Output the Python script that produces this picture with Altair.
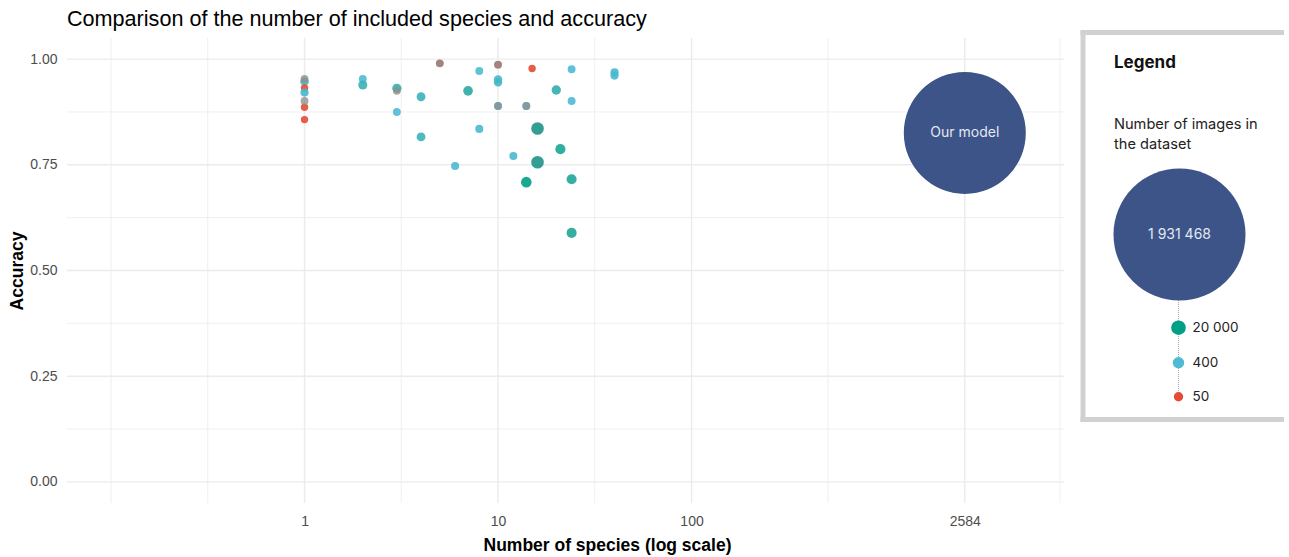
import altair as alt
import pandas as pd

TITLE = "Comparison of the number of included species and accuracy"
X_TITLE = "Number of species (log scale)"
Y_TITLE = "Accuracy"

# Studies with a known number of images
species = [1, 1, 1, 1, 1, 2, 2, 3, 3, 4, 4, 5, 6, 7, 8, 8, 10, 10, 10, 10,
           12, 14, 14, 15, 16, 16, 20, 21, 24, 24, 24, 24, 40, 40]
accuracy = [0.947, 0.932, 0.921, 0.886, 0.857, 0.953, 0.939, 0.931, 0.875, 0.911,
            0.816, 0.990, 0.747, 0.925, 0.972, 0.835, 0.987, 0.952, 0.945, 0.889,
            0.771, 0.889, 0.709, 0.978, 0.836, 0.756, 0.927, 0.787, 0.976, 0.901,
            0.716, 0.589, 0.969, 0.961]
images = [1000, 50, 600, 50, 50, 400, 2000, 2500, 400, 1500,
          1500, 50, 500, 5000, 400, 500, 50, 700, 800, 400,
          500, 400, 20000, 50, 40000, 40000, 3000, 10000, 400, 450,
          8000, 8000, 600, 600]

# Studies without a reported number of images
na_species = [1, 1, 3, 5, 10, 10, 14]
na_accuracy = [0.953, 0.901, 0.925, 0.990, 0.987, 0.889, 0.889]

# Our model
model_species = [2584]
model_accuracy = [0.8255]
model_images = [1931468]
model_label = ["Our model"]

# Axis breaks and grid
x_ticks = [1, 10, 100, 2584]
x_minor = [0.1, 0.316, 3.16, 31.6, 508, 8020]
y_ticks = [0.0, 0.25, 0.5, 0.75, 1.0]
y_minor = [0.125, 0.375, 0.625, 0.875]

# Legend content
legend_title = "Legend"
legend_subtitle = ["Number of images in", "the dataset"]
legend_values = [1931468, 20000, 400, 50]
legend_labels = ["1 931 468", "20 000", "400", "50"]

npg_colors = ["#E64B35", "#4DBBD5", "#00A087", "#3C5488"]

W, H = 997, 465

xs = alt.Scale(type="log", domain=[0.0592, 8414], nice=False)
ys = alt.Scale(domain=[-0.05, 1.05], nice=False, zero=False)
cs = alt.Scale(type="log", domain=[50, 400, 20000, 1931468], range=npg_colors,
               interpolate="lab")
ss = alt.Scale(type="log", domain=[50, 400, 20000, 40000, 1931468],
               range=[55, 62, 112, 160, 14884])

GRID = "#ebebeb"

ax_x = alt.Axis(values=x_ticks, format="d", grid=False, ticks=False, domain=False,
                labelColor="#4d4d4d", labelFontSize=14, labelFont="Liberation Sans",
                labelPadding=11, title=X_TITLE, titleFont="Liberation Sans",
                titleFontSize=17.5, titleFontWeight="bold", titleColor="black",
                titlePadding=8, titleX=540, titleAlign="center")
ax_y = alt.Axis(values=y_ticks, format=".2f", grid=False, ticks=False, domain=False,
                labelColor="#4d4d4d", labelFontSize=14, labelFont="Liberation Sans",
                labelPadding=10, title=Y_TITLE, titleFont="Liberation Sans",
                titleFontSize=17.5, titleFontWeight="bold", titleColor="black",
                titlePadding=3)


def X(field):
    return alt.X(field, scale=xs, axis=ax_x)


def Y(field):
    return alt.Y(field, scale=ys, axis=ax_y)


vmaj = alt.Chart(pd.DataFrame({"species": x_ticks})).mark_rule(
    color=GRID, strokeWidth=1.4).encode(x=X("species:Q"))
vmin = alt.Chart(pd.DataFrame({"species": x_minor})).mark_rule(
    color=GRID, strokeWidth=0.8).encode(x=X("species:Q"))
hmaj = alt.Chart(pd.DataFrame({"accuracy": y_ticks})).mark_rule(
    color=GRID, strokeWidth=1.4).encode(y=Y("accuracy:Q"))
hmin = alt.Chart(pd.DataFrame({"accuracy": y_minor})).mark_rule(
    color=GRID, strokeWidth=0.8).encode(y=Y("accuracy:Q"))

df = pd.DataFrame({"species": species, "accuracy": accuracy, "images": images})
pts = alt.Chart(df).mark_circle(opacity=0.9, strokeWidth=0).encode(
    x=X("species:Q"), y=Y("accuracy:Q"),
    color=alt.Color("images:Q", scale=cs, legend=None),
    size=alt.Size("images:Q", scale=ss, legend=None),
)

na_df = pd.DataFrame({"species": na_species, "accuracy": na_accuracy})
na_pts = alt.Chart(na_df).mark_circle(color="#8e8e8e", opacity=0.78, size=62).encode(
    x=X("species:Q"), y=Y("accuracy:Q"),
)

mdf = pd.DataFrame({"species": model_species, "accuracy": model_accuracy,
                    "images": model_images, "label": model_label})
model = alt.Chart(mdf).mark_circle(opacity=1).encode(
    x=X("species:Q"), y=Y("accuracy:Q"),
    color=alt.Color("images:Q", scale=cs, legend=None),
    size=alt.Size("images:Q", scale=ss, legend=None),
)
model_text = alt.Chart(mdf).mark_text(color="#e3e8f2", fontSize=14, font="Inter").encode(
    x=X("species:Q"), y=Y("accuracy:Q"), text="label:N",
)

# ---- chart title as a text mark, above the panel ----
title_mark = alt.Chart(pd.DataFrame({"t": [TITLE]})).mark_text(
    font="Liberation Sans", fontSize=21.6, color="black", align="left",
    baseline="alphabetic").encode(x=alt.value(0), y=alt.value(-12), text="t:N")

# ---- custom legend box (drawn to the right of the panel) ----
BOX = "#d1d1d1"
LX = 1016   # left border, relative to the plot area
box_left = alt.Chart(pd.DataFrame({"a": [0]})).mark_rule(color=BOX, strokeWidth=5).encode(
    x=alt.value(LX), y=alt.value(-8), y2=alt.value(384))
box_top = alt.Chart(pd.DataFrame({"a": [0]})).mark_rule(color=BOX, strokeWidth=5).encode(
    x=alt.value(LX - 2.5), x2=alt.value(1217), y=alt.value(-5.5))
box_bot = alt.Chart(pd.DataFrame({"a": [0]})).mark_rule(color=BOX, strokeWidth=5).encode(
    x=alt.value(LX - 2.5), x2=alt.value(1217), y=alt.value(381.5))

leg_title = alt.Chart(pd.DataFrame({"t": [legend_title]})).mark_text(
    font="Inter", fontSize=17, fontWeight="bold", color="#111111", align="left",
    baseline="alphabetic").encode(x=alt.value(1047), y=alt.value(30), text="t:N")
leg_sub = alt.Chart(pd.DataFrame({"a": [0]})).mark_text(
    font="Inter", fontSize=14.6, color="#222222", align="left", baseline="alphabetic",
    lineHeight=19.5).encode(x=alt.value(1047), y=alt.value(91),
                            text=alt.value(legend_subtitle))

CX = 1111.5
stem = alt.Chart(pd.DataFrame({"a": [0]})).mark_rule(
    color="#a8a8a8", strokeWidth=1, strokeDash=[1, 1]).encode(
    x=alt.value(CX), y=alt.value(262), y2=alt.value(359))

leg_y = [196.5, 289.7, 324.7, 358.7]
leg_size = [17424, 213, 130, 88]
leg_layers = []
for i, (v, lab) in enumerate(zip(legend_values, legend_labels)):
    d = pd.DataFrame({"images": [v], "label": [lab]})
    leg_layers.append(alt.Chart(d).mark_circle(opacity=1, size=leg_size[i]).encode(
        x=alt.value(CX + (1 if i == 0 else 0)), y=alt.value(leg_y[i]),
        color=alt.Color("images:Q", scale=cs, legend=None)))
    if i == 0:
        leg_layers.append(alt.Chart(d).mark_text(
            font="Inter", fontSize=14, color="#e3e8f2", align="center",
            baseline="middle").encode(x=alt.value(CX + 1), y=alt.value(leg_y[i]),
                                      text="label:N"))
    else:
        leg_layers.append(alt.Chart(d).mark_text(
            font="Inter", fontSize=13.5, color="#222222", align="left",
            baseline="middle").encode(x=alt.value(1125.5), y=alt.value(leg_y[i]),
                                      text="label:N"))

chart = alt.layer(
    vmin, hmin, vmaj, hmaj, pts, na_pts, model, model_text, title_mark,
    box_left, box_top, box_bot, leg_title, leg_sub, stem, *leg_layers
).properties(
    width=W, height=H,
    autosize=alt.AutoSizeParams(type="none"),
    padding={"left": 67, "top": 38, "right": 225, "bottom": 54},
    background="white",
).configure_view(stroke=None)

chart.save("out.html", embed_options={"renderer": "svg", "actions": False})
